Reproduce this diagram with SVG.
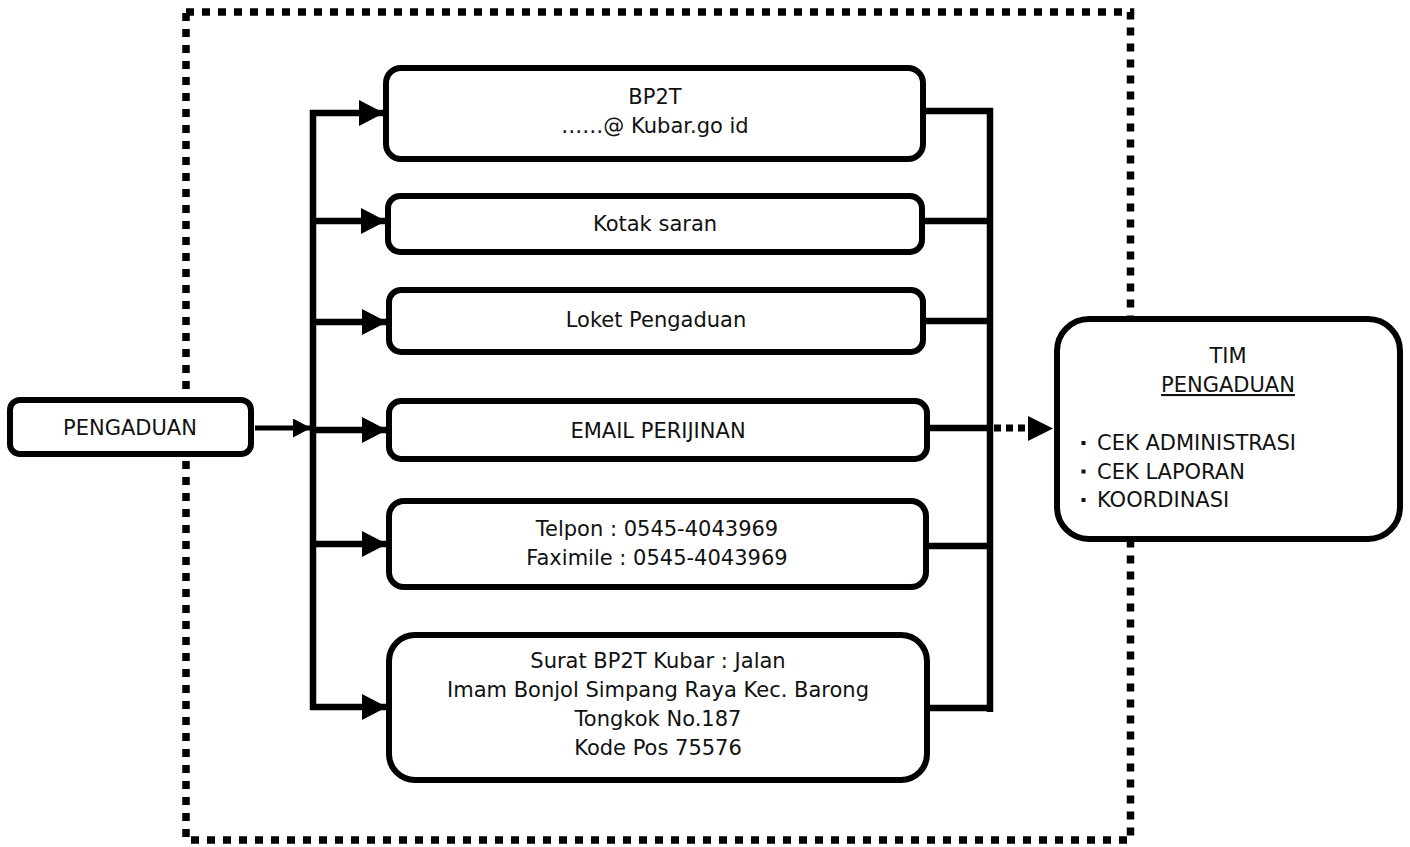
<svg xmlns="http://www.w3.org/2000/svg" width="1410" height="847" viewBox="0 0 1410 847">
<style>
.box{fill:#fff;stroke:#000;stroke-width:6}
.t{font-family:"DejaVu Sans","Liberation Sans",sans-serif;font-size:21px;fill:#111}
.c{text-anchor:middle}
.ln{stroke:#000;stroke-width:6.5;fill:none}
</style>
<defs>
<marker id="ah" markerUnits="userSpaceOnUse" markerWidth="25" markerHeight="26" viewBox="0 0 25 26" refX="25" refY="13" orient="auto"><path d="M0,0 L25,13 L0,26 Z" fill="#000"/></marker>
<marker id="ahs" markerUnits="userSpaceOnUse" markerWidth="18" markerHeight="19" viewBox="0 0 18 19" refX="18" refY="9.5" orient="auto"><path d="M0,0 L18,9.5 L0,19 Z" fill="#000"/></marker>
</defs>
<rect x="186" y="12" width="944.5" height="828" fill="none" stroke="#000" stroke-width="7.5" stroke-dasharray="8 8"/>
<g id="connectors">
<path class="ln" d="M313,710 V110"/>
<path class="ln" d="M310,113 H384" marker-end="url(#ah)"/>
<path class="ln" d="M313,221 H386" marker-end="url(#ah)"/>
<path class="ln" d="M313,322 H387" marker-end="url(#ah)"/>
<path class="ln" d="M313,430 H387" marker-end="url(#ah)"/>
<path class="ln" d="M313,544 H387" marker-end="url(#ah)"/>
<path class="ln" d="M310,707 H387" marker-end="url(#ah)"/>
<path d="M255,428 H311" stroke="#000" stroke-width="5" marker-end="url(#ahs)"/>
<path class="ln" d="M990,108 V712"/>
<path class="ln" d="M926,111 H993"/>
<path class="ln" d="M925,221 H990"/>
<path class="ln" d="M926,321 H990"/>
<path class="ln" d="M930,428 H990"/>
<path class="ln" d="M929,546 H990"/>
<path class="ln" d="M930,708 H993"/>
<path d="M994,428 H1030" stroke="#000" stroke-width="7" stroke-dasharray="7 5"/>
<path d="M1028,416 L1053,428.5 L1028,441 Z" fill="#000"/>
</g>
<g id="pengaduan">
<rect class="box" x="10" y="400" width="241" height="54" rx="10"/>
<text class="t c" x="130" y="435">PENGADUAN</text>
</g>
<g id="bp2t">
<rect class="box" x="386" y="68" width="537" height="91" rx="15"/>
<text class="t c" x="655" y="104">BP2T</text>
<text class="t c" x="655" y="133">……@ Kubar.go id</text>
</g>
<g id="kotak">
<rect class="box" x="388" y="196" width="534" height="56" rx="12"/>
<text class="t c" x="655" y="231">Kotak saran</text>
</g>
<g id="loket">
<rect class="box" x="389" y="290" width="534" height="62" rx="12"/>
<text class="t c" x="656" y="327">Loket Pengaduan</text>
</g>
<g id="email">
<rect class="box" x="389" y="401" width="538" height="58" rx="12"/>
<text class="t c" x="658" y="438">EMAIL PERIJINAN</text>
</g>
<g id="telpon">
<rect class="box" x="389" y="501" width="537" height="86" rx="15"/>
<text class="t c" x="657" y="536">Telpon : 0545-4043969</text>
<text class="t c" x="657" y="565">Faximile : 0545-4043969</text>
</g>
<g id="surat">
<rect class="box" x="389" y="635" width="538" height="145" rx="26"/>
<text class="t c" x="658" y="668">Surat BP2T Kubar : Jalan</text>
<text class="t c" x="658" y="697">Imam Bonjol Simpang Raya Kec. Barong</text>
<text class="t c" x="658" y="726">Tongkok No.187</text>
<text class="t c" x="658" y="755">Kode Pos 75576</text>
</g>
<g id="tim">
<rect class="box" x="1057" y="319" width="343" height="220" rx="32"/>
<text class="t c" x="1228" y="363">TIM</text>
<text class="t c" x="1228" y="392" text-decoration="underline">PENGADUAN</text>
<rect x="1081.5" y="441" width="4" height="4" fill="#111"/>
<rect x="1081.5" y="469.5" width="4" height="4" fill="#111"/>
<rect x="1081.5" y="498" width="4" height="4" fill="#111"/>
<text class="t" x="1097" y="450">CEK ADMINISTRASI</text>
<text class="t" x="1097" y="478.5">CEK LAPORAN</text>
<text class="t" x="1097" y="507">KOORDINASI</text>
</g>
</svg>
